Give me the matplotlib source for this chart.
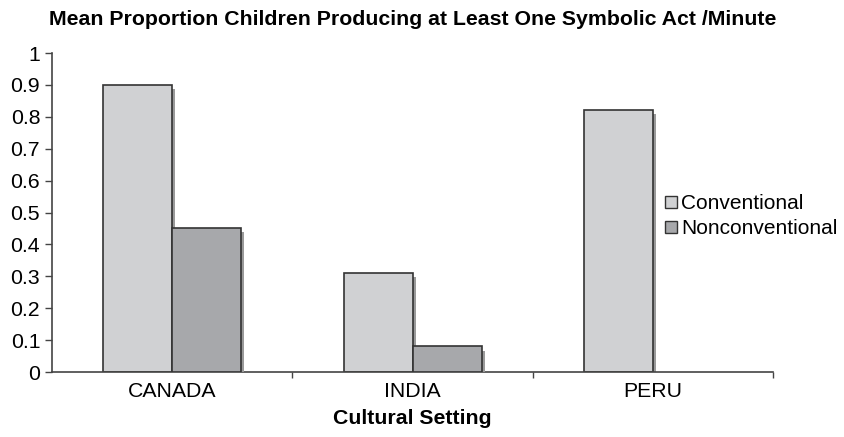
import numpy as np
import matplotlib.pyplot as plt
import matplotlib.patheffects as pe
from matplotlib.patches import Patch

# data
settings = ["CANADA", "INDIA", "PERU"]
conventional = [0.90, 0.31, 0.82]
nonconventional = [0.45, 0.08, 0.0]
series_names = ["Conventional", "Nonconventional"]
series_colors = ['#d0d1d3', '#a7a8ab']

plt.rcParams['font.family'] = ['Liberation Sans', 'DejaVu Sans']
plt.rcParams['font.size'] = 15.3

fig = plt.figure(figsize=(8.44, 4.37), dpi=100)
ax = fig.add_axes([0.0616, 0.1487, 0.8547, 0.73])

x = np.arange(len(settings))
w = 0.2875
shadow = [pe.SimplePatchShadow(offset=(2.2, -2.9), shadow_rgbFace='#9a9a9a', alpha=1.0), pe.Normal()]

b1 = ax.bar(x - w / 2, conventional, w, color=series_colors[0], edgecolor='#333333', lw=1.2, zorder=2)
b2 = ax.bar(x + w / 2, nonconventional, w, color=series_colors[1], edgecolor='#333333', lw=1.2, zorder=3)
for b in list(b1) + list(b2):
    if b.get_height() > 0:
        b.set_path_effects(shadow)
    else:
        b.set_visible(False)

ax.set_xlim(-0.5, 2.5)
ax.set_ylim(0, 1)
ax.set_yticks(np.arange(0, 1.01, 0.1))
ax.set_yticklabels(["0"] + ["%.1f" % v for v in np.arange(0.1, 0.95, 0.1)] + ["1"])
ax.set_xticks(x)
ax.set_xticklabels(settings)
ax.set_xticks([0.5, 1.5, 2.5], minor=True)
ax.tick_params(axis='x', which='major', length=0, pad=7)
ax.tick_params(axis='x', which='minor', length=4, width=1, color='#444444')
ax.tick_params(axis='y', length=5, width=1, color='#444444', pad=3.5)

for s in ['top', 'right']:
    ax.spines[s].set_visible(False)
for s in ['left', 'bottom']:
    ax.spines[s].set_color('#444444')
    ax.spines[s].set_linewidth(1.2)

ax.set_xlabel("Cultural Setting", fontweight='bold', labelpad=6)
ax.set_title("Mean Proportion Children Producing at Least One Symbolic Act /Minute",
             fontweight='bold', fontsize=15.3, pad=20)

handles = [Patch(facecolor=c, edgecolor='#333333', lw=1.0) for c in series_colors]
fig.legend(handles, series_names, loc='center left', bbox_to_anchor=(0.776, 0.505),
           frameon=False, borderpad=0, handlelength=0.55, handleheight=0.55,
           handletextpad=0.2, labelspacing=0.3, fontsize=15)

plt.savefig('out.png', dpi=100)
